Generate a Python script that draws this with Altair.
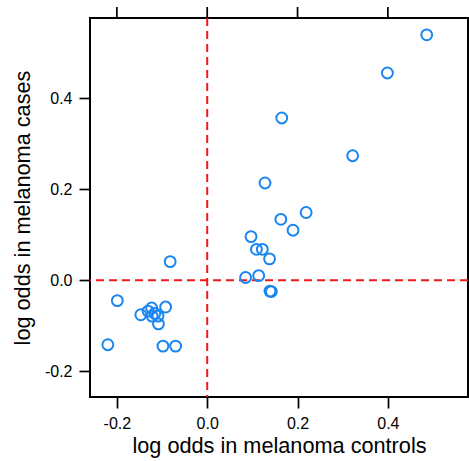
import altair as alt
import pandas as pd

# log odds of each marker among controls (x) and cases (y)
controls = [0.486, 0.399, 0.165, 0.322, 0.128, 0.163, 0.219, 0.190, 0.097,
            0.109, 0.122, 0.138, 0.085, 0.114, 0.139, 0.142,
            -0.082, -0.199, -0.220, -0.098, -0.070,
            -0.147, -0.131, -0.123, -0.116, -0.109, -0.092, -0.108, -0.122]
cases = [0.540, 0.456, 0.357, 0.274, 0.214, 0.134, 0.149, 0.110, 0.096,
         0.068, 0.068, 0.047, 0.006, 0.010, -0.024, -0.025,
         0.041, -0.045, -0.142, -0.145, -0.145,
         -0.076, -0.068, -0.061, -0.073, -0.079, -0.059, -0.096, -0.079]

x_ticks = [-0.2, 0.0, 0.2, 0.4]
y_ticks = [-0.2, 0.0, 0.2, 0.4]
x_domain = [-0.2595, 0.5774]
y_domain = [-0.257, 0.577]

df = pd.DataFrame({"controls": controls, "cases": cases})
ticks_df = pd.DataFrame({"t": x_ticks})
zero_df = pd.DataFrame({"z": [0.0]})

FONT = "Liberation Sans"
W, H = 378, 379
# plain hyphen-minus in tick labels
LABEL_EXPR = "replace(format(datum.value, '.1f'), '\u2212', '-')"

xscale = alt.Scale(domain=x_domain, nice=False, zero=False)
yscale = alt.Scale(domain=y_domain, nice=False, zero=False)

common_axis = dict(
    domain=False, grid=False, tickSize=11, tickWidth=1.7, tickColor="black",
    labelFont=FONT, labelFontSize=16, labelColor="black", labelPadding=7,
    labelExpr=LABEL_EXPR,
    titleFont=FONT, titleFontSize=21.7, titleFontWeight="normal", titleColor="black",
    titleBaseline="alphabetic",
)

points = alt.Chart(df).mark_point(
    shape="circle", filled=False, size=118, strokeWidth=2, color="#1a86f0", opacity=1
).encode(
    x=alt.X("controls:Q", scale=xscale,
            axis=alt.Axis(values=x_ticks, title="log odds in melanoma controls",
                          titleX=W / 2, titleY=55, **common_axis)),
    y=alt.Y("cases:Q", scale=yscale,
            axis=alt.Axis(values=y_ticks, title="log odds in melanoma cases",
                          titleX=-61, titleY=H / 2, **common_axis)),
)

vline = alt.Chart(zero_df).mark_rule(
    color="#f01818", strokeWidth=2, strokeDash=[8, 5]
).encode(x=alt.X("z:Q", scale=xscale))

hline = alt.Chart(zero_df).mark_rule(
    color="#f01818", strokeWidth=2, strokeDash=[8, 5]
).encode(y=alt.Y("z:Q", scale=yscale))

# tick marks along the top edge
top_ticks = alt.Chart(ticks_df).mark_rule(color="black", strokeWidth=1.7).encode(
    x=alt.X("t:Q", scale=xscale), y=alt.value(-11), y2=alt.value(0)
)

chart = alt.layer(vline, hline, top_ticks, points).properties(
    width=W, height=H,
    autosize=alt.AutoSizeParams(type="none"),
    padding={"left": 90, "top": 18, "right": 1, "bottom": 64},
).configure_view(stroke="#000000", strokeWidth=2, strokeOpacity=1)

chart.save("out.html", embed_options={"renderer": "svg", "actions": False})
